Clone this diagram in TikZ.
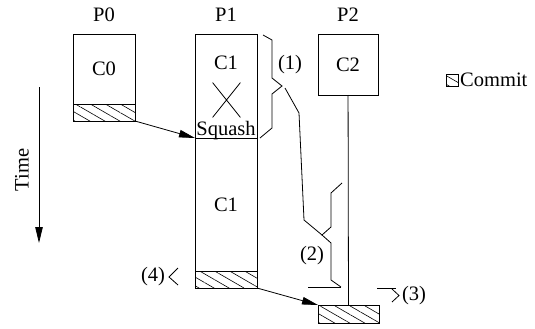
\documentclass[tikz,border=0pt]{standalone}
\usepackage{fontspec}
\setmainfont{Liberation Serif}
\usetikzlibrary{arrows.meta,positioning,shapes.misc,patterns.meta}
\tikzset{
  >={Triangle[length=16pt,width=7.5pt]},
  big/.style  ={font=\fontsize{20.5}{24}\selectfont},
  proc/.style ={draw,line width=0.9pt,minimum width=62pt,inner sep=0pt,
                outer sep=0pt,big},
  hatch/.style={draw,line width=0.9pt,minimum width=62pt,minimum height=17pt,
                inner sep=0pt,outer sep=0pt,
                pattern={Lines[angle=-30,distance=7.5pt,line width=0.6pt]}},
  lbl/.style  ={big,inner sep=1pt},
  ln/.style   ={line width=0.8pt},
  ar/.style   ={->,line width=0.8pt},
}
\begin{document}
\begin{tikzpicture}[x=1pt,y=-1pt]
\useasboundingbox (0,0) rectangle (535,329);
% processors
\node[proc,minimum height=70pt] (c0) at (104,69) {C0};
\node[hatch,below=0pt of c0] (h0) {};
\node[proc,minimum height=104pt] (c1a) at (226,86) {};
\node[proc,minimum height=133pt,below=0pt of c1a] (c1b) {C1};
\node[hatch,below=0pt of c1b] (h1) {};
\node[proc,minimum width=60pt,minimum height=61pt] (c2) at (348,64.5) {C2};
\node[hatch,minimum width=61pt,minimum height=18pt] (h2) at (348.5,314) {};
\node[lbl,above=11pt of c0] (p0) {P0};
\node[lbl,above=11pt of c1a] (p1) {P1};
\node[lbl,above=11pt of c2] (p2) {P2};
% squashed chunk
\node[lbl] (c1t) at (226,63) {C1};
\node[cross out,draw,ln,minimum width=27pt,minimum height=34pt] (x1) at (226.5,100) {};
\node[lbl,anchor=base] (sq) at (226,135) {Squash};
% messages
\draw[ar] (h0.south east) -- (c1b.north west);
\draw[ar] (h1.south east) -- (h2.north west);
\draw[ln] (c2) -- (h2);
% time axis
\coordinate (t0) at (39,87);
\coordinate (t1) at (39,243);
\draw[ar] (t0) -- (t1);
\node[lbl,rotate=90] (time) at (22,170) {Time};
% braces
\draw[ln] (263,35) -- (272,40) -- (272,78) -- (282,86) -- (272,94) -- (272,128) -- (260,138);
\node[lbl] (n1) at (290,65) {(1)};
\draw[ln] (342,183) -- (331,193) -- (331,227) -- (322,235) coordinate (b2)
          -- (331,243) -- (331,280) -- (341,287);
\coordinate (b1) at (285,88);
\draw[ln] (b1) -- (299,113) -- (304,220) -- (b2);
\node[lbl] (n2) at (312,256) {(2)};
\draw[ln] (308,287) -- (341,287);
% (3) and (4)
\draw[ln] (377,288) -- (396,288);
\draw[ln] (392,289) -- (399,295.5) -- (392,302);
\node[lbl] (n3) at (414,296) {(3)};
\node[lbl] (n4) at (153,277) {(4)};
\draw[ln] (178,268) -- (169,277) -- (178,285);
% legend
\node[hatch,minimum width=12pt,minimum height=12pt,line width=0.6pt] (key) at (452,80) {};
\node[lbl,right=1pt of key] (keyt) {Commit};
\end{tikzpicture}
\end{document}
